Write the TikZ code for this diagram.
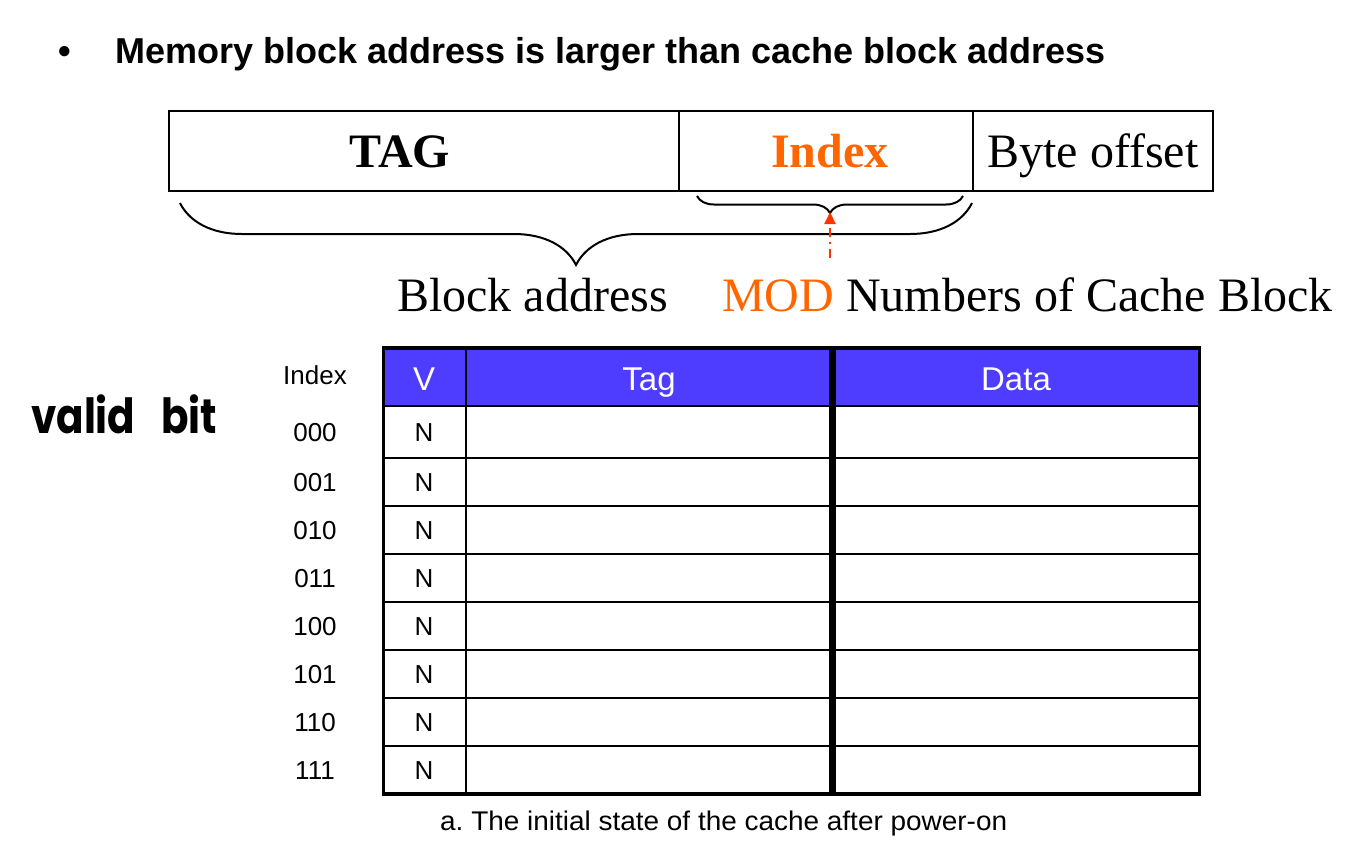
\documentclass[tikz,border=0pt]{standalone}
\usepackage{fontspec}
\setmainfont{Liberation Serif}
\newfontfamily\arial{Liberation Sans}
\newfontfamily\comic{Poppins}
\usetikzlibrary{decorations.pathreplacing,arrows.meta}
\definecolor{hdrblue}{RGB}{78,60,255}
\definecolor{idxorange}{RGB}{255,102,0}
\definecolor{arrowred}{RGB}{255,51,0}
\frenchspacing
\tikzset{
  field/.style={draw, line width=2pt, minimum height=80pt, inner sep=0pt, outer sep=0pt, anchor=north west, text height=32pt, text depth=0pt},
  fieldtext/.style={inner sep=0pt, anchor=base},
  hdrtext/.style={font=\arial\fontsize{33}{36}\selectfont, text=white, inner sep=0pt},
  celltext/.style={font=\arial\fontsize{26}{30}\selectfont, inner sep=0pt},
  idxtext/.style={font=\arial\fontsize{26}{30}\selectfont, inner sep=0pt},
  bracedec/.style={decorate, line width=2pt},
  gridline/.style={line width=2pt},
}
\begin{document}
\begin{tikzpicture}[x=1pt,y=-1pt]
\useasboundingbox[fill=white] (0,0) rectangle (1362,854);

% title
\node[anchor=base west, inner sep=0pt, font=\arial\bfseries\fontsize{36}{40}\selectfont] (bullet) at (58,63) {•};
\node[anchor=base west, inner sep=0pt, font=\arial\bfseries\fontsize{36}{40}\selectfont] (title) at (115,63) {Memory block address is larger than cache block address};

% address fields
\node[field, minimum width=510pt] (tagf) at (169,111) {};
\node[field, minimum width=294pt] (idxf) at (679,111) {};
\node[field, minimum width=240pt, font=\fontsize{48}{52}\selectfont] (offf) at (973,111) {Byte offset};
\node[fieldtext, font=\bfseries\fontsize{48}{52}\selectfont] (tagt) at (400,167) {TAG};
\node[fieldtext, font=\bfseries\fontsize{48}{52}\selectfont, text=idxorange] (idxt) at (830,167) {Index};

% braces
\coordinate (bl) at (180,203);
\coordinate (br) at (972,203);
\draw[bracedec, decoration={brace, mirror, amplitude=62pt}] (bl) -- (br);
\coordinate (sl) at (697,196);
\coordinate (sr) at (963,196);
\draw[bracedec, decoration={brace, mirror, amplitude=17pt}] (sl) -- (sr);

% arrow
\coordinate (arrstart) at (830,258);
\coordinate (arrtip) at (830,212);
\draw[arrowred, line width=2pt, dash pattern=on 9pt off 5pt on 2pt off 5pt, -{Triangle[length=12pt,width=11pt]}] (arrstart) -- (arrtip);

% labels under
\node[anchor=base west, inner sep=0pt, font=\fontsize{48}{52}\selectfont] (blockaddr) at (397,311) {Block address};
\node[anchor=base west, inner sep=0pt, font=\fontsize{48}{52}\selectfont] (modtxt) at (722,311) {\textcolor{idxorange}{MOD} Numbers of Cache Block};

% valid bit
\node[anchor=base west, inner sep=0pt, font=\comic\bfseries\fontsize{44}{48}\selectfont] (valid) at (31,433) {\scalebox{0.92}[1.1]{valid}\hspace{26pt}\scalebox{0.92}[1.1]{bit}};

% table
\fill[hdrblue] (383,348) rectangle (1200,406);
\foreach \yy in {406,458,506,554,602,650,698,746} {
  \draw[gridline] (383,\yy) -- (1200,\yy);
}
\draw[gridline] (465.5,348) -- (465.5,794);
\draw[line width=7pt] (832.5,348) -- (832.5,794);
\draw[line width=3.5pt] (383.5,348) rectangle (1199.5,794);

\node[hdrtext, anchor=base] (hv) at (424,390) {V};
\node[hdrtext, anchor=base] (ht) at (649,390) {Tag};
\node[hdrtext, anchor=base] (hd) at (1016,390) {Data};
\node[idxtext, anchor=base] (hidx) at (315,384) {Index};

\foreach \lab [count=\i from 0] in {000,001,010,011,100,101,110,111} {
  \pgfmathsetmacro{\cy}{432+48*\i+(\i>0 ? 2 : 0)}
  \node[idxtext, anchor=base] (i\i) at (315,\cy+9.5) {\lab};
  \node[celltext, anchor=base] (n\i) at (424,\cy+9.3) {N};
}

% caption
\node[anchor=base west, inner sep=0pt, font=\arial\fontsize{27}{30}\selectfont] (caption) at (440,830) {\scalebox{1.035}[1]{a. The initial state of the cache after power-on}};
\end{tikzpicture}
\end{document}
